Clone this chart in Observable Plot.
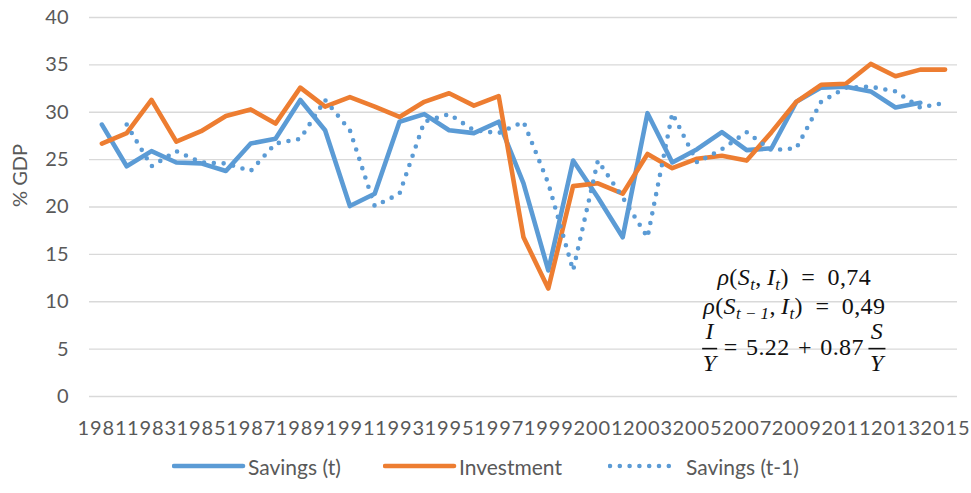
<!DOCTYPE html>
<html><head><meta charset="utf-8">
<script src="https://cdn.jsdelivr.net/npm/d3@7"></script>
<script src="https://cdn.jsdelivr.net/npm/@observablehq/plot@0.6"></script>
<style>
html,body{margin:0;padding:0;background:#fff;}
#wrap{width:971px;}
#legend{position:relative;width:971px;height:48px;font-family:Lato,sans-serif;font-size:21px;color:#595959;}
.item{position:absolute;top:0;height:40px;display:flex;align-items:center;white-space:nowrap;}
.item svg{display:block;}
g[aria-label="x-axis tick label"] text{letter-spacing:0.9px;}
</style></head><body><div id="wrap"></div><script>
const years = [1981,1982,1983,1984,1985,1986,1987,1988,1989,1990,1991,1992,1993,1994,1995,1996,1997,1998,1999,2000,2001,2002,2003,2004,2005,2006,2007,2008,2009,2010,2011,2012,2013,2014,2015];
// Savings (t), 1981-2014
const savings = [28.7,24.3,25.9,24.7,24.6,23.8,26.7,27.2,31.3,28.1,20.1,21.4,29.0,29.8,28.1,27.8,29.0,22.5,13.3,24.9,21.0,16.8,29.9,24.7,26.1,27.9,26.0,26.2,31.1,32.6,32.7,32.2,30.5,31.0];
// Investment, 1981-2015
const investment = [26.7,27.8,31.3,26.9,28.0,29.6,30.3,28.8,32.6,30.6,31.6,30.6,29.5,31.1,32.0,30.7,31.7,16.8,11.4,22.2,22.5,21.4,25.6,24.1,25.1,25.4,24.9,27.9,31.1,32.9,33.0,35.1,33.8,34.5,34.5];
// Savings (t-1), 1982-2015
const savingsLag = [28.7,24.3,25.9,24.7,24.6,23.8,26.7,27.2,31.3,28.1,20.1,21.4,29.0,29.8,28.1,27.8,29.0,22.5,13.3,24.9,21.0,16.8,29.9,24.7,26.1,27.9,26.0,26.2,31.1,32.6,32.7,32.2,30.5,31.0];
const yTicks = [0,5,10,15,20,25,30,35,40];
const xTicks = [1981,1983,1985,1987,1989,1991,1993,1995,1997,1999,2001,2003,2005,2007,2009,2011,2013,2015];
const seriesNames = ["Savings (t)","Investment","Savings (t-1)"];
const colors = ["#5B9BD5","#ED7D31","#5B9BD5"];
const yLabel = "% GDP";
const annoLine1 = {rho:"0,74"};
const annoLine2 = {rho:"0,49"};
const annoEq = {a:"5.22", b:"0.87"};
const annoYear = 2009, annoY1 = 11.7, annoY2 = 8.7, annoBar = 5.0;

const sRows = savings.map((v,i)=>({year:years[i], v}));
const iRows = investment.map((v,i)=>({year:years[i], v}));
const lRows = savingsLag.map((v,i)=>({year:years[i+1], v}));

const chart = Plot.plot({
  width: 971, height: 445,
  marginLeft: 89, marginRight: 14, marginTop: 17, marginBottom: 49,
  style: {fontFamily: "Lato, sans-serif", fontSize: "20px", color: "#595959", background: "#fff", overflow: "visible"},
  x: {type: "point", domain: years, padding: 0.5, round: false},
  y: {domain: [0, 40]},
  marks: [
    Plot.gridY(yTicks, {stroke: "#d9d9d9", strokeOpacity: 1, strokeWidth: 1.3}),
    Plot.axisY(yTicks, {tickSize: 0, tickPadding: 21, label: null, fill: "#595959"}),
    Plot.axisX(xTicks, {tickSize: 0, tickPadding: 24, dx: 0.5, label: null, fill: "#595959", tickFormat: d => String(d)}),
    Plot.text([yLabel], {frameAnchor: "left", dx: -69, rotate: -90, fontSize: 20, fill: "#595959"}),
    Plot.line(sRows, {x: "year", y: "v", stroke: colors[0], strokeWidth: 4.6, strokeLinejoin: "round", strokeLinecap: "round"}),
    Plot.line(iRows, {x: "year", y: "v", stroke: colors[1], strokeWidth: 4.6, strokeLinejoin: "round", strokeLinecap: "round"}),
    Plot.line(lRows, {x: "year", y: "v", stroke: colors[2], strokeWidth: 4.6, strokeDasharray: "0 9.8", strokeLinecap: "round"})
  ]
});
document.getElementById("wrap").appendChild(chart);

// annotation
const xs = chart.scale("x"), ys = chart.scale("y");
const cx = xs.apply(annoYear) - 2;
const svg = d3.select(chart);
const g = svg.append("g").attr("font-family", "'Liberation Serif', serif").attr("font-size", 24).attr("fill", "#111").style("letter-spacing", "0.4px");
function mathLine(y, parts) {
  const t = g.append("text").attr("x", cx).attr("y", y).attr("text-anchor", "middle");
  parts.forEach(p => {
    const s = t.append("tspan").text(p.t);
    if (p.i) s.attr("font-style", "italic");
    if (p.sub) s.attr("font-size", 17).attr("dy", 5);
    if (p.up) s.attr("dy", -5);
  });
  const bb = t.node().getBBox();
  t.attr("x", cx + (cx - (bb.x + bb.width / 2)));
  return t;
}
mathLine(ys.apply(annoY1), [
  {t:"ρ", i:1},{t:"("},{t:"S", i:1},{t:"t", i:1, sub:1},{t:",\u2009", up:1},{t:"I", i:1},{t:"t", i:1, sub:1},{t:")", up:1},{t:"\u2002=\u2002" + annoLine1.rho}
]);
mathLine(ys.apply(annoY2), [
  {t:"ρ", i:1},{t:"("},{t:"S", i:1},{t:"t\u2009\u2212\u20091", i:1, sub:1},{t:",\u2009", up:1},{t:"I", i:1},{t:"t", i:1, sub:1},{t:")", up:1},{t:"\u2002=\u2002" + annoLine2.rho}
]);
const barY = ys.apply(annoBar);
const mid = g.append("text").attr("x", cx).attr("y", barY + 6.5).attr("text-anchor", "middle").text("=\u2004" + annoEq.a + "\u2004+\u2004" + annoEq.b);
const w = mid.node().getComputedTextLength();
function frac(center, num, fw) {
  g.append("text").attr("x", center).attr("y", barY - 9.5).attr("text-anchor", "middle").attr("font-style", "italic").text(num);
  g.append("text").attr("x", center).attr("y", barY + 22).attr("text-anchor", "middle").attr("font-style", "italic").text("Y");
  g.append("line").attr("x1", center - fw/2).attr("x2", center + fw/2).attr("y1", barY).attr("y2", barY).attr("stroke", "#111").attr("stroke-width", 1.6);
}
frac(cx - w/2 - 6 - 8, "I", 15);
frac(cx + w/2 + 4 + 9, "S", 17);

// legend
const legend = d3.select("#wrap").append("div").attr("id", "legend");
const lpos = [172, 383, 608];
seriesNames.forEach((name, i) => {
  const it = legend.append("div").attr("class", "item").style("left", lpos[i] + "px").style("top", "1px");
  const s = it.append("svg").attr("width", 76).attr("height", 12);
  const ln = s.append("line").attr("x1", 2).attr("x2", i === 2 ? 70 : 71).attr("y1", 6).attr("y2", 6)
    .attr("stroke", colors[i]).attr("stroke-width", 4.6).attr("stroke-linecap", "round");
  if (i === 2) ln.attr("stroke-dasharray", "0 9.8");
  it.append("span").text(name).style("margin-left", i === 2 ? "2px" : "0px");
});
</script></body></html>
